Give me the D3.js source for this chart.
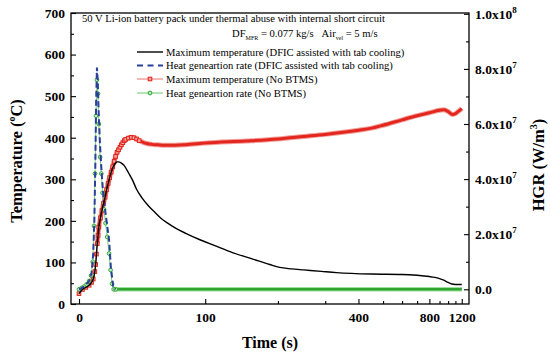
<!DOCTYPE html>
<html>
<head>
<meta charset="utf-8">
<script src="https://cdn.jsdelivr.net/npm/d3@7"></script>
<style>
  body { margin: 0; background: #fff; }
  text { font-family: "Liberation Serif", "Times New Roman", serif; }
</style>
</head>
<body>
<script>
// DATA
var tempTicks = [0, 100, 200, 300, 400, 500, 600, 700];
var hgrTicks = [0, 2e7, 4e7, 6e7, 8e7, 1e8];
var timeTicks = [0, 100, 400, 800, 1200];
var timeMinor = [200, 300, 500, 600, 700, 900, 1000, 1100];

// maximum temperature, DFIC assisted with tab cooling (black)
var tBlack = [0, 2, 4, 6, 7.5, 8.5, 9.5, 10, 10.5, 11, 11.5, 12, 13, 14, 15, 16, 17, 18, 19, 20, 21, 22, 23, 24, 25, 27, 29, 31, 33, 35, 38, 42, 47, 52, 58, 63, 70, 80, 95, 110, 133, 160, 186, 203, 225, 250, 290, 330, 450, 600, 700, 800, 850, 900, 940, 1000, 1050, 1100, 1150, 1200];
var vBlack = [25, 35, 40, 45, 52, 60, 78, 95, 120, 145, 165, 185, 207, 225, 242, 257, 275, 290, 304, 317, 327, 334, 339, 342, 342, 339, 333, 322, 310, 298, 276, 256, 237, 222, 205, 195, 183, 170, 154, 141, 123, 108, 95, 88, 84.5, 82, 78.5, 75.5, 72, 71, 69, 66, 64, 61, 58, 52, 48, 47, 47, 47];

// maximum temperature, no BTMS (red)
var tRed = [0, 2, 4, 6, 7.5, 8.5, 9.5, 10, 10.5, 11, 11.5, 12, 13, 14, 15, 16, 17, 18, 19, 20, 21, 22, 23, 24, 25, 26, 27, 28, 29, 30, 32, 34, 36, 38, 40, 43, 46, 50, 55, 60, 70, 80, 100, 150, 200, 250, 300, 350, 400, 450, 500, 600, 700, 800, 900, 950, 1000, 1060, 1100, 1150, 1200];
var vRed = [25, 35, 40, 45, 52, 60, 78, 95, 120, 145, 165, 185, 207, 225, 242, 257, 275, 290, 304, 317, 330, 343, 355, 365, 371, 377, 383, 388, 393, 396, 399, 401, 400, 397, 393, 389, 386, 384, 383, 382, 382, 383, 387, 392, 397, 403, 408, 413, 418, 423, 430, 443, 453, 460, 466, 467, 463, 456, 458, 464, 470];

// heat generation rate, DFIC assisted with tab cooling (blue dashed), W/m3
var tBlue = [0, 3, 6, 7.5, 8.5, 9.2, 9.8, 10.3, 10.8, 11.3, 11.8, 12.7, 13.6, 14.9, 16.7, 18.6, 19.8, 21.5, 23, 50, 100, 200, 400, 800, 1200];
var vBlue = [0, 0.1e7, 0.3e7, 0.6e7, 1.3e7, 2.5e7, 4.5e7, 6.8e7, 8.05e7, 7.6e7, 6.6e7, 5.3e7, 4.4e7, 3.35e7, 2.6e7, 1.8e7, 0.8e7, 0.05e7, 0, 0, 0, 0, 0, 0, 0];

// heat generation rate, no BTMS (green)
var tGreen = [0, 1.5, 3, 4.5, 6, 7.2, 8.2, 9, 9.6, 10.2, 10.8, 11.4, 12, 12.8, 13.6, 14.4, 15.3, 16.3, 17.4, 18.6, 19.6, 20.6, 21.7, 23, 26, 30, 40, 60, 100, 200, 400, 800, 1200];
var vGreen = [0, 0.05e7, 0.1e7, 0.18e7, 0.3e7, 0.5e7, 1.0e7, 2.3e7, 4.2e7, 6.3e7, 7.6e7, 7.1e7, 6.0e7, 4.8e7, 4.2e7, 3.5e7, 2.9e7, 2.4e7, 1.9e7, 1.3e7, 0.7e7, 0.2e7, 0, 0, 0, 0, 0, 0, 0, 0, 0, 0, 0];

var legendNames = [
  "Maximum temperature (DFIC assisted with tab cooling)",
  "Heat geneartion rate (DFIC assisted with tab cooling)",
  "Maximum temperature (No BTMS)",
  "Heat geneartion rate (No BTMS)"
];

var width = 550, height = 361;
var box = {left: 71, right: 469, top: 13, bottom: 304};

var svg = d3.select("body").append("svg")
    .attr("width", width)
    .attr("height", height);

// the time axis is a reciprocal-type scale: t/(t+272) mapped linearly,
// sampled densely into a piecewise linear d3 scale so axes work as usual
var xu = d3.scaleLinear().domain([0, 1]).range([79, 79 + 469.5]);
function recip(t) { return xu(t / (t + 272)); }
var xKnots = [-4.5].concat(d3.range(0, 100, 1), d3.range(100, 1300, 10), [1295]);
var x = d3.scaleLinear().domain(xKnots).range(xKnots.map(recip));

var yL = d3.scaleLinear().domain([0, 700]).range([box.bottom, box.top]);
var yR = d3.scaleLinear().domain([0, 1e8]).range([289.3, 13.8]);

function pts(ts, vs) { return ts.map(function(t, i) { return [t, vs[i]]; }); }

var lineL = d3.line().curve(d3.curveMonotoneX)
    .x(function(d) { return x(d[0]); }).y(function(d) { return yL(d[1]); });
var lineR = d3.line().x(function(d) { return x(d[0]); }).y(function(d) { return yR(d[1]); });

var red = pts(tRed, vRed), black = pts(tBlack, vBlack);
var blue = pts(tBlue, vBlue), green = pts(tGreen, vGreen);

// red (no BTMS) - dense markers drawn as a band
svg.append("path").attr("d", lineL(red))
    .attr("fill", "none").attr("stroke", "#f07a72").attr("stroke-width", 1);
svg.append("path").attr("d", lineL(red.filter(function(d) { return d[0] >= 11; })))
    .attr("fill", "none").attr("stroke", "#f2a09a").attr("stroke-width", 5);
svg.append("path").attr("d", lineL(red.filter(function(d) { return d[0] >= 11; })))
    .attr("fill", "none").attr("stroke", "#e3261e").attr("stroke-width", 3);
svg.selectAll(".rm").data(red.filter(function(d) { return d[0] <= 40; }))
  .enter().append("rect")
    .attr("x", function(d) { return x(d[0]) - 1.8; })
    .attr("y", function(d) { return yL(d[1]) - 1.8; })
    .attr("width", 3.6).attr("height", 3.6)
    .attr("fill", "#f4a7a1").attr("stroke", "#e0221b").attr("stroke-width", 1);

// green (no BTMS HGR)
svg.append("path").attr("d", lineR(green))
    .attr("fill", "none").attr("stroke", "#7ccf7c").attr("stroke-width", 1);
svg.append("path").attr("d", lineR(green.filter(function(d) { return d[0] >= 21.7; })))
    .attr("fill", "none").attr("stroke", "#9be09b").attr("stroke-width", 4.5);
svg.append("path").attr("d", lineR(green.filter(function(d) { return d[0] >= 21.7; })))
    .attr("fill", "none").attr("stroke", "#2fa52f").attr("stroke-width", 2.6);
svg.selectAll(".gm").data(green.filter(function(d) { return d[0] <= 23; }))
  .enter().append("circle")
    .attr("cx", function(d) { return x(d[0]); })
    .attr("cy", function(d) { return yR(d[1]); })
    .attr("r", 1.9)
    .attr("fill", "#bdeebd").attr("stroke", "#2f9f2f").attr("stroke-width", 0.9);

// blue dashed (DFIC HGR)
svg.append("path").attr("d", lineR(blue.filter(function(d) { return d[0] <= 30; })))
    .attr("fill", "none").attr("stroke", "#27409a").attr("stroke-width", 2)
    .attr("stroke-dasharray", "6,3");

// black (DFIC max temperature)
svg.append("path").attr("d", lineL(black))
    .attr("fill", "none").attr("stroke", "#000").attr("stroke-width", 1.4);

// AXES
var tickFont = function(g) {
  g.selectAll("text").attr("font-size", 13.5).attr("font-weight", "bold")
    .attr("font-family", "Liberation Serif").attr("fill", "#000");
  g.selectAll("line").attr("stroke", "#000").attr("stroke-width", 1.1);
  g.select(".domain").remove();
};

svg.append("g").attr("transform", "translate(0," + box.bottom + ")")
    .call(d3.axisBottom(x).tickValues(timeTicks).tickSize(-5).tickPadding(8).tickFormat(d3.format("d")))
    .call(tickFont);
svg.append("g").attr("transform", "translate(0," + box.bottom + ")")
    .call(d3.axisBottom(x).tickValues(timeMinor).tickSize(-3).tickFormat(""))
    .call(tickFont);

svg.append("g").attr("transform", "translate(" + box.left + ",0)")
    .call(d3.axisLeft(yL).tickValues(tempTicks).tickSize(-5).tickPadding(6))
    .call(tickFont);
svg.append("g").attr("transform", "translate(" + box.left + ",0)")
    .call(d3.axisLeft(yL).tickValues(d3.range(50, 700, 100)).tickSize(-3).tickFormat(""))
    .call(tickFont);

var rAxis = svg.append("g").attr("transform", "translate(" + box.right + ",0)")
    .call(d3.axisRight(yR).tickValues(hgrTicks).tickSize(-5).tickPadding(6))
    .call(tickFont);
rAxis.selectAll("text").each(function(d) {
  var t = d3.select(this).text("");
  if (d === 0) { t.text("0.0"); return; }
  var e = Math.floor(Math.log10(d)), m = d / Math.pow(10, e);
  t.append("tspan").text(m.toFixed(1) + "x10");
  t.append("tspan").text(e).attr("font-size", 9).attr("dy", -6);
});
svg.append("g").attr("transform", "translate(" + box.right + ",0)")
    .call(d3.axisRight(yR).tickValues(d3.range(1e7, 1e8, 2e7)).tickSize(-3).tickFormat(""))
    .call(tickFont);

// frame
svg.append("rect")
    .attr("x", box.left).attr("y", box.top)
    .attr("width", box.right - box.left).attr("height", box.bottom - box.top)
    .attr("fill", "none").attr("stroke", "#000").attr("stroke-width", 1.3);

// AXIS TITLES
svg.append("text").attr("x", 270).attr("y", 348)
    .attr("text-anchor", "middle").attr("font-size", 16).attr("font-weight", "bold")
    .text("Time (s)");

var yt = svg.append("text")
    .attr("transform", "translate(22,161) rotate(-90)")
    .attr("text-anchor", "middle").attr("font-size", 16.5).attr("font-weight", "bold");
yt.append("tspan").text("Temperature (");
yt.append("tspan").text("o").attr("font-size", 10).attr("dy", -7);
yt.append("tspan").text("C)").attr("dy", 7);

var rt = svg.append("text")
    .attr("transform", "translate(544,165) rotate(-90)")
    .attr("text-anchor", "middle").attr("font-size", 16.5).attr("font-weight", "bold");
rt.append("tspan").text("HGR (W/m");
rt.append("tspan").text("3").attr("font-size", 10).attr("dy", -7);
rt.append("tspan").text(")").attr("dy", 7);

// ANNOTATIONS
svg.append("text").attr("x", 82).attr("y", 22).attr("font-size", 10.6)
    .text("50 V Li-ion battery pack under thermal abuse with internal short circuit");
var sub = svg.append("text").attr("x", 232).attr("y", 37).attr("font-size", 10.6);
sub.append("tspan").text("DF");
sub.append("tspan").text("MFR").attr("font-size", 6).attr("dy", 3);
sub.append("tspan").text("\u00a0= 0.077 kg/s\u00a0\u00a0\u00a0Air").attr("dy", -3);
sub.append("tspan").text("vel").attr("font-size", 6).attr("dy", 3);
sub.append("tspan").text("\u00a0= 5 m/s").attr("dy", -3);

// LEGEND
var legY = [52, 65.5, 79, 93];
var lg = svg.append("g");
lg.append("line").attr("x1", 137).attr("x2", 163).attr("y1", legY[0]).attr("y2", legY[0])
    .attr("stroke", "#000").attr("stroke-width", 1.4);
lg.append("line").attr("x1", 137).attr("x2", 163).attr("y1", legY[1]).attr("y2", legY[1])
    .attr("stroke", "#27409a").attr("stroke-width", 2).attr("stroke-dasharray", "6,4.5");
lg.append("line").attr("x1", 137).attr("x2", 163).attr("y1", legY[2]).attr("y2", legY[2])
    .attr("stroke", "#ee6f67").attr("stroke-width", 1);
lg.append("rect").attr("x", 148.2).attr("y", legY[2] - 1.8).attr("width", 3.6).attr("height", 3.6)
    .attr("fill", "#f4a7a1").attr("stroke", "#e0221b");
lg.append("line").attr("x1", 137).attr("x2", 163).attr("y1", legY[3]).attr("y2", legY[3])
    .attr("stroke", "#6cc86c").attr("stroke-width", 1);
lg.append("circle").attr("cx", 150).attr("cy", legY[3]).attr("r", 1.9)
    .attr("fill", "#bdeebd").attr("stroke", "#2f9f2f");
lg.selectAll(".lt").data(legendNames).enter().append("text")
    .attr("x", 166).attr("y", function(d, i) { return legY[i] + 3.7; })
    .attr("font-size", 10.6)
    .text(function(d) { return d; });
</script>
</body>
</html>
